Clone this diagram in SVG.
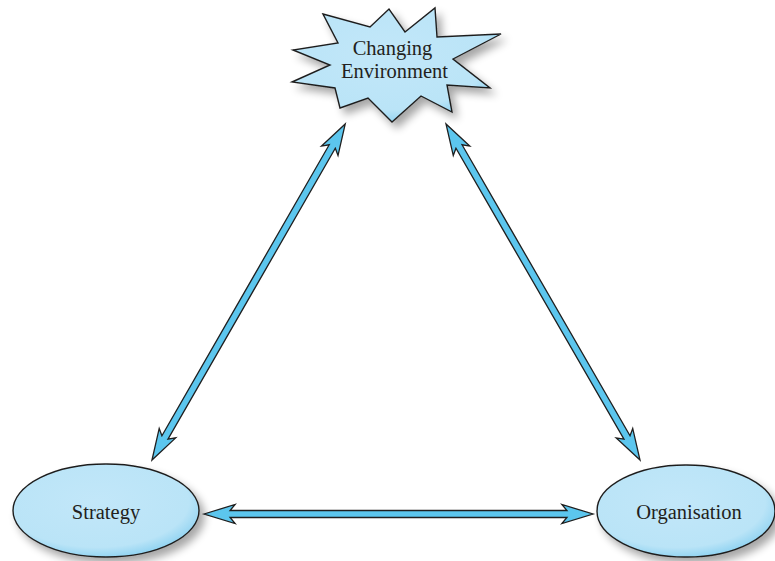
<svg xmlns="http://www.w3.org/2000/svg" width="775" height="561" viewBox="0 0 775 561">
<defs>
<style>
.shape{stroke:#1f1f1f;stroke-width:1.4;stroke-linejoin:miter}
.lbl{font-family:"Liberation Serif","Times New Roman",serif;font-size:20.5px;fill:#231f20;text-anchor:middle}
.arrow{fill:#5cc6ee;stroke:#1f1f1f;stroke-width:1.3;stroke-linejoin:miter}
</style>
<radialGradient id="fillG" cx="0.45" cy="0.4" r="0.62">
<stop offset="0" stop-color="#c2e7f9"/>
<stop offset="0.8" stop-color="#bae4f7"/>
<stop offset="1" stop-color="#8ed2f1"/>
</radialGradient>
<filter id="shadow" x="-20%" y="-20%" width="150%" height="150%">
<feGaussianBlur in="SourceAlpha" stdDeviation="4"/>
<feOffset dx="5" dy="6" result="b"/>
<feComponentTransfer><feFuncA type="linear" slope="0.35"/></feComponentTransfer>
<feMerge><feMergeNode/><feMergeNode in="SourceGraphic"/></feMerge>
</filter>
<path id="dbl" class="arrow" d="M0,0 L31,-9.5 L26,-3.5 L362,-3.5 L357,-9.5 L388,0 L357,9.5 L362,3.5 L26,3.5 L31,9.5 Z"/>
</defs>
<rect width="775" height="561" fill="#ffffff"/>
<g id="connectors">
<use href="#dbl" transform="translate(152,460) rotate(-60.1) scale(0.999,1)"/>
<use href="#dbl" transform="translate(640,460) rotate(-120) scale(1,1)"/>
<use href="#dbl" transform="translate(204,514) scale(1.0026,1)"/>
</g>
<g id="environment">
<polygon class="shape" fill="url(#fillG)" filter="url(#shadow)" points="323,14 370,27 389,9 405,32 435,8 437,37 501,34 453,59 490,88 447,85 452,112 421,96 392,122 368,98 340,108 335,88 292,82 330,65 293,50 338,43"/>
<text class="lbl" x="392.5" y="55">Changing</text>
<text class="lbl" x="394.5" y="78">Environment</text>
</g>
<g id="strategy">
<ellipse class="shape" fill="url(#fillG)" filter="url(#shadow)" cx="106" cy="510.5" rx="93" ry="46.5"/>
<text class="lbl" x="106" y="519">Strategy</text>
</g>
<g id="organisation">
<ellipse class="shape" fill="url(#fillG)" filter="url(#shadow)" cx="686" cy="511" rx="89" ry="46"/>
<text class="lbl" x="689" y="519">Organisation</text>
</g>
</svg>
